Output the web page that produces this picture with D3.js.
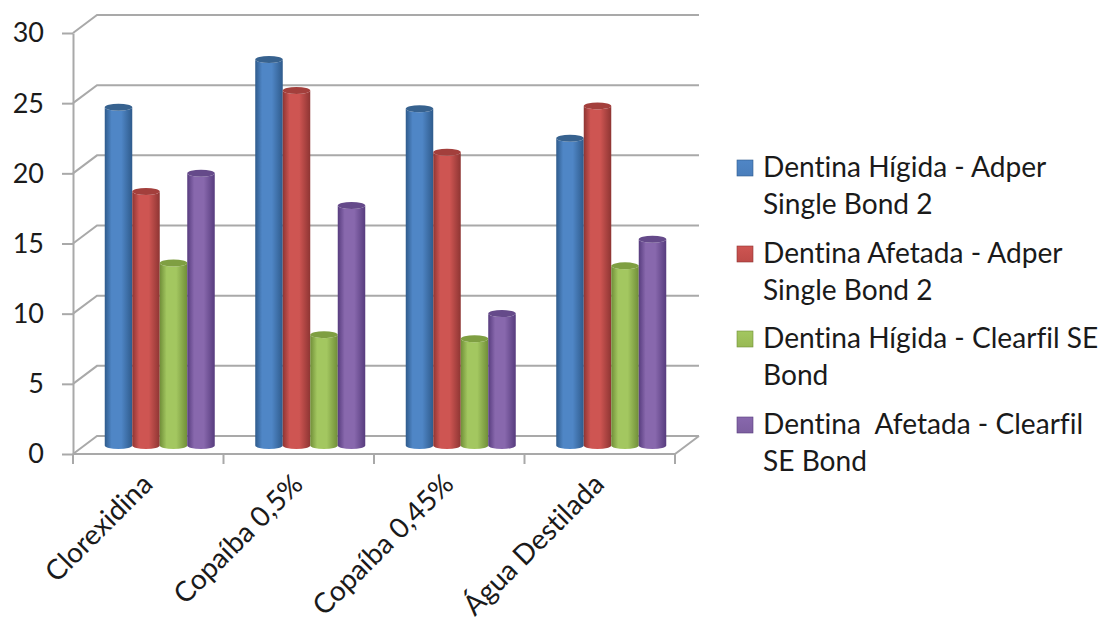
<!DOCTYPE html>
<html>
<head>
<meta charset="utf-8">
<script src="https://cdn.jsdelivr.net/npm/d3@7/dist/d3.min.js"></script>
<style>
html,body{margin:0;padding:0;background:#fff;overflow:hidden}
svg{display:block}
text{font-family:Lato,"Open Sans",sans-serif;fill:#1a1a1a;font-variant-ligatures:none}
</style>
</head>
<body>
<svg id="chart" width="1102" height="625"></svg>
<script>
// Bond strength by storage solution, one cylinder per substrate/adhesive pair
const categories = ["Clorexidina", "Copaíba 0,5%", "Copaíba 0,45%", "Água Destilada"];
const seriesNames = [
  ["Dentina Hígida - Adper", "Single Bond 2"],
  ["Dentina Afetada - Adper", "Single Bond 2"],
  ["Dentina Hígida - Clearfil SE", "Bond"],
  ["Dentina  Afetada - Clearfil", "SE Bond"]
];
const higidaAdper = [24.1, 27.5, 24.0, 21.9];
const afetadaAdper = [18.1, 25.3, 20.9, 24.2];
const higidaClearfil = [13.0, 7.9, 7.6, 12.8];
const afetadaClearfil = [19.4, 17.1, 9.4, 14.7];
const seriesValues = [higidaAdper, afetadaAdper, higidaClearfil, afetadaClearfil];
const yTicks = [0, 5, 10, 15, 20, 25, 30];
const palette = [
  {edge:"#2f5b8c", mid:"#4f86c6", top:"#37628f", key:"#4a7ebb"},
  {edge:"#8e3533", mid:"#ce5552", top:"#a33f3c", key:"#be4b48"},
  {edge:"#708e38", mid:"#a3c760", top:"#7f9f42", key:"#98b954"},
  {edge:"#573c7e", mid:"#8868ad", top:"#654a8a", key:"#7d5fa0"}
];

const svg = d3.select("#chart");
const gridColor = "#a9a9a9";

// Oblique projection: the back wall is shifted up and to the right of the front plane
const depth = {dx: 24, dy: -18};
const barPlane = {dx: 11.5, dy: -8.5};
const bottom = 454, topY = 33, left = 73, right = 675;

const y = d3.scaleLinear().domain([0, 30]).range([bottom, topY]);
const x0 = d3.scaleBand().domain(categories).range([left, right]);
const groupWidth = 110;
const x1 = d3.scaleBand().domain(d3.range(seriesValues.length)).range([0, groupWidth]);

// Horizontal shading that gives each column its round look
const defs = svg.append("defs");
palette.forEach((c, i) => {
  const g = defs.append("linearGradient").attr("id", "cyl" + i);
  [[0, c.edge], [0.25, c.mid], [0.6, c.mid], [1, c.edge]].forEach(([o, col]) =>
    g.append("stop").attr("offset", o).attr("stop-color", col));
  const k = defs.append("linearGradient").attr("id", "key" + i)
    .attr("x1", 0).attr("x2", 0).attr("y1", 0).attr("y2", 1);
  k.append("stop").attr("offset", 0).attr("stop-color", c.mid);
  k.append("stop").attr("offset", 1).attr("stop-color", c.key);
});

// Gridlines on the back wall and the diagonal return to the value axis
const grid = svg.append("g").attr("fill", "none").attr("stroke", gridColor).attr("stroke-width", 2);
yTicks.forEach(t => {
  grid.append("path").attr("d", d3.line()([
    [left, y(t)],
    [left + depth.dx, y(t) + depth.dy],
    [right + depth.dx, y(t) + depth.dy]
  ]));
});
// Floor outline
grid.append("path").attr("d", d3.line()([
  [right + depth.dx, y(0) + depth.dy],
  [right, y(0)],
  [left, y(0)]
]));

// Value axis with its outward ticks and labels
const yAxis = d3.axisLeft(y).tickValues(yTicks).tickSize(11).tickPadding(6).tickSizeOuter(0);
const yG = svg.append("g").attr("transform", `translate(${left},0)`).call(yAxis);
yG.selectAll("path,line").attr("stroke", gridColor).attr("stroke-width", 2);
yG.selectAll("text").attr("font-size", 27).style("font-family", "Lato,sans-serif").attr("fill", "#1a1a1a").attr("dx", -12).attr("dy", "0.33em");

// Category axis ticks sit on the band boundaries
const boundaries = categories.map(c => x0(c)).concat([right]);
svg.append("g").selectAll("line").data(boundaries).join("line")
  .attr("x1", d => d).attr("x2", d => d)
  .attr("y1", bottom).attr("y2", bottom + 10)
  .attr("stroke", gridColor).attr("stroke-width", 2);

// Columns, one group per category, drawn back to front from left to right
const rx = x1.bandwidth() / 2, ry = 3.5;
categories.forEach((cat, ci) => {
  const ox = x0(cat) + (x0.bandwidth() - groupWidth) / 2 + barPlane.dx;
  const g = svg.append("g");
  seriesValues.forEach((vals, si) => {
    const xl = ox + x1(si), xr = xl + x1.bandwidth(), xc = (xl + xr) / 2;
    const yB = y(0) + barPlane.dy, yT = y(vals[ci]) + barPlane.dy;
    g.append("path")
      .attr("d", `M${xl},${yT}L${xl},${yB}A${rx},${ry} 0 0 0 ${xr},${yB}L${xr},${yT}A${rx},${ry} 0 0 1 ${xl},${yT}Z`)
      .attr("fill", `url(#cyl${si})`);
    g.append("ellipse")
      .attr("cx", xc).attr("cy", yT).attr("rx", rx).attr("ry", ry)
      .attr("fill", palette[si].top);
  });
});

// Category labels, rotated and ending under the band centre
svg.append("g").selectAll("text").data(categories).join("text")
  .attr("text-anchor", "end")
  .attr("font-size", 28)
  .attr("transform", d => `translate(${x0(d) + x0.bandwidth() / 2 + 6},${bottom + 32}) rotate(-45)`)
  .text(d => d);

// Legend
const legendTop = [167, 253, 338, 424];
const legend = svg.append("g");
seriesNames.forEach((lines, i) => {
  legend.append("rect")
    .attr("x", 737).attr("y", legendTop[i] - 7).attr("width", 16).attr("height", 16)
    .attr("fill", `url(#key${i})`).attr("stroke", palette[i].edge).attr("stroke-width", 0.6);
  lines.forEach((t, j) => {
    legend.append("text")
      .attr("x", 763).attr("y", legendTop[i] + 10 + j * 37)
      .attr("font-size", 28.1)
      .style("white-space", "pre")
      .text(t);
  });
});
</script>
</body>
</html>
